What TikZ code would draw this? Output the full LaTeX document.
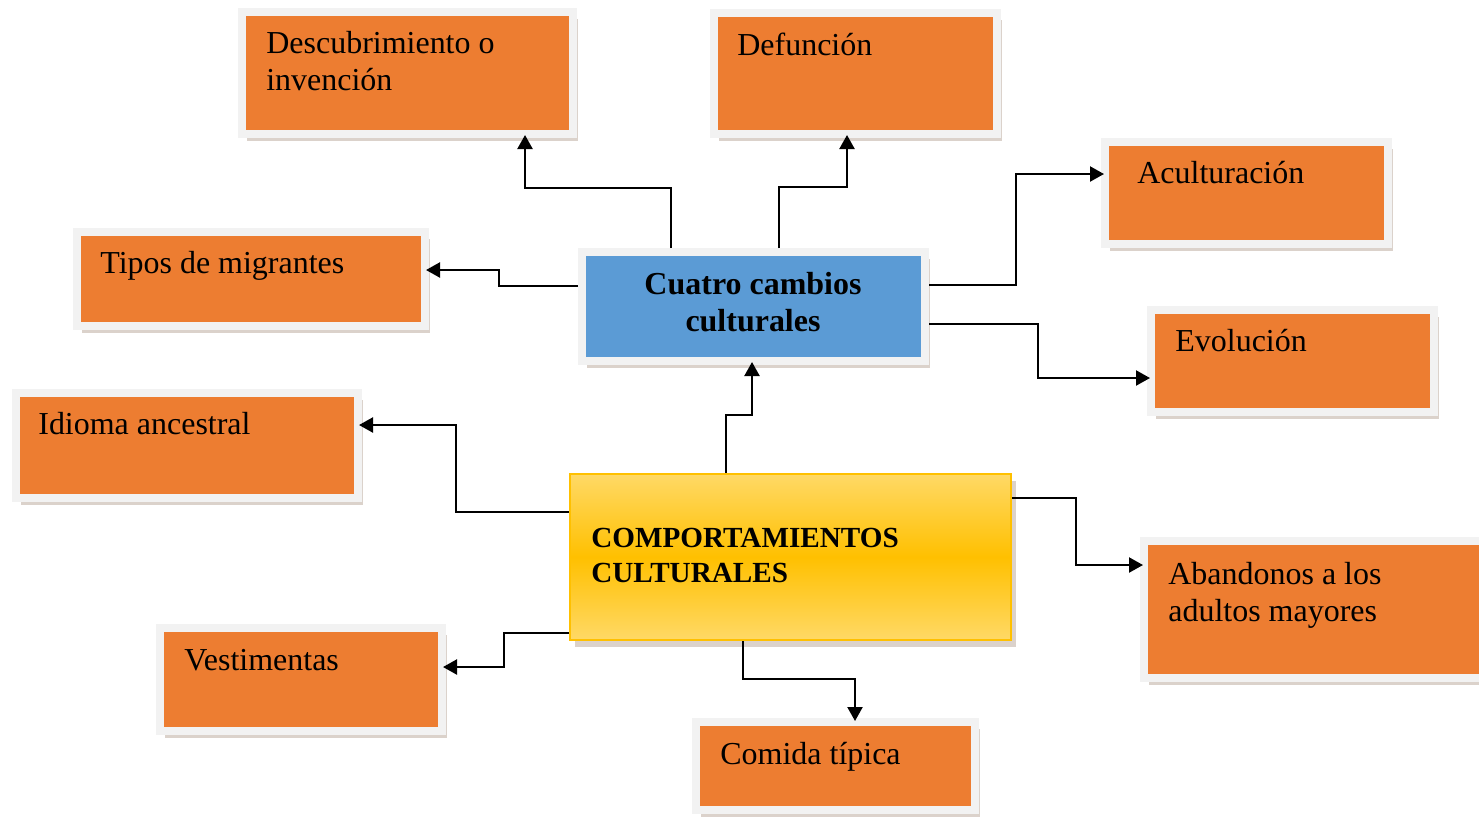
\documentclass[tikz,border=0pt]{standalone}
\usepackage{fontspec}
\setmainfont{Liberation Serif}
\usetikzlibrary{arrows.meta,fit,shadows}
\definecolor{orangebox}{HTML}{ED7D31}
\definecolor{framegray}{HTML}{F2F2F2}
\definecolor{bluebox}{HTML}{5B9BD5}
\definecolor{ylight}{HTML}{FFD966}
\definecolor{ygold}{HTML}{FFC000}
\definecolor{shadowc}{HTML}{8A6A55}
\tikzset{
  shad/.style={drop shadow={shadow xshift=0.1cm, shadow yshift=-0.14cm, opacity=0.3, fill=shadowc}},
  obox/.style={draw=framegray, line width=0.16cm, fill=orangebox, inner sep=0pt, shad},
  bbox/.style={draw=framegray, line width=0.16cm, fill=bluebox, inner sep=0pt, shad},
  ybox/.style={draw=ygold, line width=0.05cm, top color=ylight, bottom color=ylight, middle color=ygold, inner sep=0pt, shad},
  txt/.style={anchor=base west, inner sep=0pt, align=left, font=\fontsize{18.2}{21}\selectfont},
  btxt/.style={anchor=base, inner sep=0pt, align=center, font=\fontsize{18.2}{21}\selectfont\bfseries},
  ytxt/.style={anchor=base west, inner sep=0pt, align=left, font=\fontsize{16.6}{19.4}\selectfont\bfseries},
  conn/.style={draw=black, line width=0.045cm, shorten >=-0.06cm, -{Triangle[length=0.28cm,width=0.3cm]}}
}
\begin{document}
\begin{tikzpicture}[x=0.02cm,y=-0.02cm]
\useasboundingbox (0,0) rectangle (1479,816);
\clip (0,0) rectangle (1479,816);
\fill[white] (0,0) rectangle (1479,816);
% boxes
\node[obox, fit={(242,12) (573,134)}] (d1) {};
\node[obox, fit={(714,13) (997,134)}] (d2) {};
\node[obox, fit={(1105,142) (1388,244)}] (d3) {};
\node[obox, fit={(77,232) (425,326)}] (d4) {};
\node[bbox, fit={(582,252) (925,361)}] (cuatro) {};
\node[obox, fit={(1151,310) (1434,412)}] (d6) {};
\node[obox, fit={(16,393) (358,498)}] (d7) {};
\node[ybox, fit={(570,474) (1011,640)}] (comp) {};
\node[obox, fit={(1144,541) (1500,678)}] (d9) {};
\node[obox, fit={(160,628) (442,731)}] (d10) {};
\node[obox, fit={(696,722) (975,810)}] (d11) {};
% texts (multi-line nodes: base = last line)
\node[txt] (t1) at (266,90) {Descubrimiento o\\invención};
\node[txt] (t2) at (737,55) {Defunción};
\node[txt] (t3) at (1137,183) {Aculturación};
\node[txt] (t4) at (100,273) {Tipos de migrantes};
\node[btxt] (t5) at (753,331) {Cuatro cambios\\culturales};
\node[txt] (t6) at (1175,351) {Evolución};
\node[txt] (t7) at (38,434) {Idioma ancestral};
\node[ytxt] (t8) at (591,582) {COMPORTAMIENTOS\\CULTURALES};
\node[txt] (t9) at (1168,621) {Abandonos a los\\adultos mayores};
\node[txt] (t10) at (184,670) {Vestimentas};
\node[txt] (t11) at (720,764) {Comida típica};
% connectors
\draw[conn] (671,0 |- cuatro.north) |- (525,188) -- (525,0 |- d1.south);
\draw[conn] (779,0 |- cuatro.north) |- (847,187) -- (847,0 |- d2.south);
\draw[conn] (cuatro.east |- 0,285) -| (1016,174) -- (d3.west |- 0,174);
\draw[conn] (cuatro.east |- 0,324) -| (1038,378) -- (d6.west |- 0,378);
\draw[conn] (cuatro.west |- 0,286) -| (499,270) -- (d4.east |- 0,270);
\draw[conn] (726,0 |- comp.north) |- (752,415) -- (752,0 |- cuatro.south);
\draw[conn] (comp.west |- 0,512) -| (456,425) -- (d7.east |- 0,425);
\draw[conn] (comp.west |- 0,633) -| (504,667) -- (d10.east |- 0,667);
\draw[conn] (comp.east |- 0,498) -| (1076,565) -- (d9.west |- 0,565);
\draw[conn] (743,0 |- comp.south) |- (855,679) -- (855,0 |- d11.north);
\end{tikzpicture}
\end{document}
